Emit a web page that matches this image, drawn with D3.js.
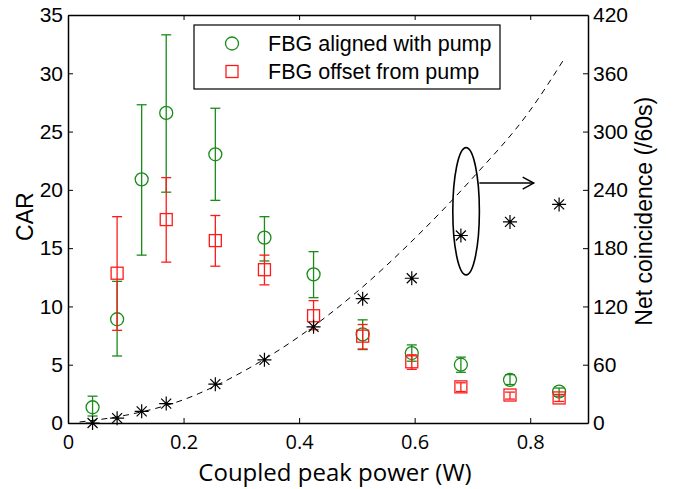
<!DOCTYPE html>
<html>
<head>
<meta charset="utf-8">
<script src="https://cdn.jsdelivr.net/npm/d3@7"></script>
<style>
  body { margin: 0; background: #fff; }
  text { fill: #000; }
</style>
</head>
<body>
<svg id="chart"></svg>
<script>
// coupled peak power (W)
let power = [0.0425, 0.085, 0.1275, 0.17, 0.255, 0.34, 0.425, 0.51, 0.595, 0.68, 0.765, 0.85]
// CAR, FBG aligned with pump
let carAligned = [1.35, 8.9, 20.9, 26.6, 23.05, 15.9, 12.75, 7.6, 6.0, 5.0, 3.7, 2.7]
let carAlignedLo = [0.6, 5.75, 14.4, 19.8, 19.1, 13.9, 10.75, 6.3, 5.3, 4.35, 3.3, 2.3]
let carAlignedHi = [2.3, 12.15, 27.3, 33.3, 27.0, 17.7, 14.7, 8.85, 6.7, 5.65, 4.15, 3.0]
// CAR, FBG offset from pump
let powerOffset = [0.085, 0.17, 0.255, 0.34, 0.425, 0.51, 0.595, 0.68, 0.765, 0.85]
let carOffset = [12.85, 17.45, 15.65, 13.15, 9.2, 7.45, 5.25, 3.1, 2.4, 2.15]
let carOffsetLo = [7.95, 13.8, 13.45, 11.85, 8.0, 6.35, 4.6, 2.7, 2.05, 1.85]
let carOffsetHi = [17.7, 21.05, 17.8, 14.4, 10.5, 8.45, 5.85, 3.45, 2.65, 2.45]
// net coincidences per 60 s (right axis)
let netCoinc = [0, 5, 12, 20, 40, 65, 99, 128, 149, 193, 207, 225]
// dashed fit curve
let fitPower = [0.02, 0.1, 0.2, 0.3, 0.4, 0.5, 0.6, 0.7, 0.8, 0.86]
let fitCoinc = [1, 8, 24, 52, 89, 135, 190, 252, 322, 376]

let xTicks = [0, 0.2, 0.4, 0.6, 0.8]
let carTicks = [0, 5, 10, 15, 20, 25, 30, 35]
let coincTicks = [0, 60, 120, 180, 240, 300, 360, 420]
let legendLabels = ['FBG aligned with pump', 'FBG offset from pump']

let width = 676
let height = 489
let margin = { top: 15, right: 88, bottom: 66, left: 68 }
let green = '#1a8c1a'
let red = '#ff1a1a'

let svg = d3.select('#chart')
  .attr('width', width)
  .attr('height', height)

let x = d3.scaleLinear().domain([0, 0.9]).range([margin.left, width - margin.right])
let y = d3.scaleLinear().domain([0, 35]).range([height - margin.bottom, margin.top])
let y2 = d3.scaleLinear().domain([0, 420]).range([height - margin.bottom, margin.top])

let tickFont = 'Liberation Sans, Arial, sans-serif'

// axes (inward ticks)
let bottomAxis = svg.append('g')
  .attr('transform', `translate(0,${y(0)})`)
  .call(d3.axisBottom(x).tickValues(xTicks).tickSizeInner(-5).tickSizeOuter(0)
    .tickFormat((d) => d === 0 ? '0' : d3.format('.1f')(d)))
bottomAxis.selectAll('text')
  .attr('y', 12)
  .style('font-family', 'Open Sans, sans-serif')
  .style('font-size', '20px')

let topAxis = svg.append('g')
  .attr('transform', `translate(0,${y(35)})`)
  .call(d3.axisTop(x).tickValues(xTicks.slice(1)).tickSizeInner(-5).tickSizeOuter(0).tickFormat(''))

let leftAxis = svg.append('g')
  .attr('transform', `translate(${x(0)},0)`)
  .call(d3.axisLeft(y).tickValues(carTicks).tickSizeInner(-5).tickSizeOuter(0))
leftAxis.selectAll('text')
  .attr('x', -5)
  .style('font-family', tickFont)
  .style('font-size', '21px')

let rightAxis = svg.append('g')
  .attr('transform', `translate(${x(0.9)},0)`)
  .call(d3.axisRight(y2).tickValues(coincTicks).tickSizeInner(-5).tickSizeOuter(0))
rightAxis.selectAll('text')
  .attr('x', 5)
  .style('font-family', tickFont)
  .style('font-size', '21px')

svg.selectAll('.domain').attr('stroke', '#000').attr('stroke-width', 1.5)
svg.selectAll('.tick line').attr('stroke', '#000').attr('stroke-width', 1)

// axis titles
svg.append('text')
  .attr('x', 335)
  .attr('y', 481)
  .attr('text-anchor', 'middle')
  .style('font-family', 'Open Sans, sans-serif')
  .style('font-size', '24px')
  .text('Coupled peak power (W)')

svg.append('text')
  .attr('transform', `translate(33,${y(17.7)}) rotate(-90)`)
  .attr('text-anchor', 'middle')
  .style('font-family', tickFont)
  .style('font-size', '23px')
  .text('CAR')

svg.append('text')
  .attr('transform', `translate(652,${y2(218)}) rotate(-90)`)
  .attr('text-anchor', 'middle')
  .style('font-family', tickFont)
  .style('font-size', '23px')
  .text('Net coincidence (/60s)')

// dashed fit
let line = d3.line().x((d, i) => x(fitPower[i])).y((d) => y2(d)).curve(d3.curveMonotoneX)
svg.append('path')
  .attr('d', line(fitCoinc))
  .attr('fill', 'none')
  .attr('stroke', '#000')
  .attr('stroke-width', 1)
  .attr('stroke-dasharray', '6,5')

function errorBars (xs, lo, hi, color) {
  let g = svg.append('g').attr('stroke', color).attr('stroke-width', 1.3)
  xs.forEach((px, i) => {
    g.append('line').attr('x1', x(px)).attr('x2', x(px)).attr('y1', y(lo[i])).attr('y2', y(hi[i]))
    g.append('line').attr('x1', x(px) - 5).attr('x2', x(px) + 5).attr('y1', y(lo[i])).attr('y2', y(lo[i]))
    g.append('line').attr('x1', x(px) - 5).attr('x2', x(px) + 5).attr('y1', y(hi[i])).attr('y2', y(hi[i]))
  })
}

errorBars(power, carAlignedLo, carAlignedHi, green)
svg.append('g').selectAll('circle')
  .data(carAligned)
  .enter()
  .append('circle')
  .attr('cx', (d, i) => x(power[i]))
  .attr('cy', (d) => y(d))
  .attr('r', 6.5)
  .attr('fill', 'none')
  .attr('stroke', green)
  .attr('stroke-width', 1.3)

errorBars(powerOffset, carOffsetLo, carOffsetHi, red)
svg.append('g').selectAll('rect')
  .data(carOffset)
  .enter()
  .append('rect')
  .attr('x', (d, i) => x(powerOffset[i]) - 6)
  .attr('y', (d) => y(d) - 6)
  .attr('width', 12)
  .attr('height', 12)
  .attr('fill', 'none')
  .attr('stroke', red)
  .attr('stroke-width', 1.3)

// star markers
let star = 'M-7,0H7M0,-7V7M-5,-5L5,5M-5,5L5,-5'
svg.append('g').selectAll('path')
  .data(netCoinc)
  .enter()
  .append('path')
  .attr('transform', (d, i) => `translate(${x(power[i])},${y2(d)})`)
  .attr('d', star)
  .attr('stroke', '#000')
  .attr('stroke-width', 1.2)

// ellipse annotation + arrow pointing to right axis
let ellipse = { cx: 0.689, cy: 218, rx: 0.023, ry: 65.5 }
svg.append('ellipse')
  .attr('cx', x(ellipse.cx))
  .attr('cy', y2(ellipse.cy))
  .attr('rx', x(ellipse.rx) - x(0))
  .attr('ry', y2(0) - y2(ellipse.ry))
  .attr('fill', 'none')
  .attr('stroke', '#000')
  .attr('stroke-width', 1.6)
let ax0 = x(ellipse.cx + ellipse.rx)
let ax1 = x(0.806)
let ay = y2(247)
svg.append('line').attr('x1', ax0).attr('x2', ax1).attr('y1', ay).attr('y2', ay)
  .attr('stroke', '#000').attr('stroke-width', 1.5)
svg.append('path')
  .attr('d', `M${ax1 - 11},${ay - 6}L${ax1},${ay}L${ax1 - 11},${ay + 6}`)
  .attr('fill', 'none').attr('stroke', '#000').attr('stroke-width', 1.5)

// legend
let legend = svg.append('g').attr('transform', 'translate(194,25)')
legend.append('rect')
  .attr('width', 306).attr('height', 64)
  .attr('fill', '#fff').attr('stroke', '#000').attr('stroke-width', 1.2)
legend.append('circle').attr('cx', 38).attr('cy', 18.5).attr('r', 6.5)
  .attr('fill', 'none').attr('stroke', green).attr('stroke-width', 1.3)
legend.append('rect').attr('x', 32).attr('y', 40.5).attr('width', 12).attr('height', 12)
  .attr('fill', 'none').attr('stroke', red).attr('stroke-width', 1.3)
legend.selectAll('text.lbl')
  .data(legendLabels)
  .enter()
  .append('text')
  .attr('class', 'lbl')
  .attr('x', 74)
  .attr('y', (d, i) => 26 + i * 28)
  .style('font-family', tickFont)
  .style('font-size', '21.5px')
  .text((d) => d)
</script>
</body>
</html>
